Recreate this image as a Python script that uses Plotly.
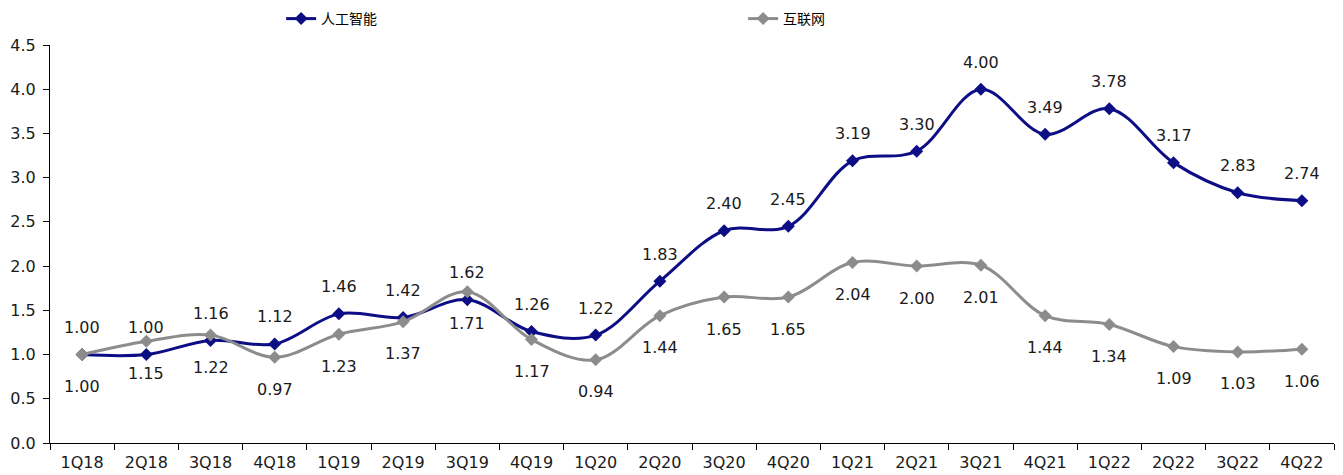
import plotly.graph_objects as go

categories = ["1Q18","2Q18","3Q18","4Q18","1Q19","2Q19","3Q19","4Q19","1Q20","2Q20",
              "3Q20","4Q20","1Q21","2Q21","3Q21","4Q21","1Q22","2Q22","3Q22","4Q22"]
ai_values = [1.00,1.00,1.16,1.12,1.46,1.42,1.62,1.26,1.22,1.83,
             2.40,2.45,3.19,3.30,4.00,3.49,3.78,3.17,2.83,2.74]
internet_values = [1.00,1.15,1.22,0.97,1.23,1.37,1.71,1.17,0.94,1.44,
                   1.65,1.65,2.04,2.00,2.01,1.44,1.34,1.09,1.03,1.06]
y_ticks = [0.0,0.5,1.0,1.5,2.0,2.5,3.0,3.5,4.0,4.5]

AI_COLOR = "#0d0d85"
NET_COLOR = "#8c8c8c"
FONT = "DejaVu Sans, Liberation Sans, Arial, sans-serif"
TXT = "#1a1a1a"

fig = go.Figure()
fig.add_trace(go.Scatter(
    x=categories, y=ai_values, name="人工智能", mode="lines+markers",
    line=dict(color=AI_COLOR, width=3, shape="spline", smoothing=1),
    marker=dict(symbol="diamond", size=10, color=AI_COLOR),
))
fig.add_trace(go.Scatter(
    x=categories, y=internet_values, name="互联网", mode="lines+markers",
    line=dict(color=NET_COLOR, width=3, shape="spline", smoothing=1),
    marker=dict(symbol="diamond", size=10, color=NET_COLOR),
))

annotations = []
for c, v in zip(categories, ai_values):
    annotations.append(dict(x=c, y=v, text=f"{v:.2f}", showarrow=False, yshift=27,
                            font=dict(family=FONT, size=16, color=TXT)))
for c, v in zip(categories, internet_values):
    annotations.append(dict(x=c, y=v, text=f"{v:.2f}", showarrow=False, yshift=-32,
                            font=dict(family=FONT, size=16, color=TXT)))

fig.update_layout(
    width=1343, height=475,
    margin=dict(l=50, r=9, t=45, b=32, autoexpand=False),
    paper_bgcolor="white", plot_bgcolor="white",
    showlegend=True,
    legend=dict(orientation="h", x=0.18, y=1 - 19 / 475, yref="container",
                yanchor="middle", xanchor="left",
                entrywidth=417, entrywidthmode="pixels",
                font=dict(family="Noto Sans CJK SC", size=14, color="#000000"),
                bgcolor="rgba(0,0,0,0)"),
    annotations=annotations,
    xaxis=dict(type="category", showline=True, linecolor="#000000", linewidth=1,
               ticks="outside", ticklen=6, tickcolor="#000000", tickson="boundaries",
               showgrid=False, zeroline=False, ticklabelstandoff=5,
               tickfont=dict(family=FONT, size=16, color=TXT),
               range=[-0.5, 19.5]),
    yaxis=dict(range=[0, 4.5], tickvals=y_ticks, ticktext=[f"{t:.1f}" for t in y_ticks],
               showline=True, linecolor="#000000", linewidth=1,
               ticks="outside", ticklen=6, tickcolor="#000000",
               showgrid=False, zeroline=False, ticklabelstandoff=4,
               tickfont=dict(family=FONT, size=16, color=TXT)),
)

fig.write_html("out.html")
